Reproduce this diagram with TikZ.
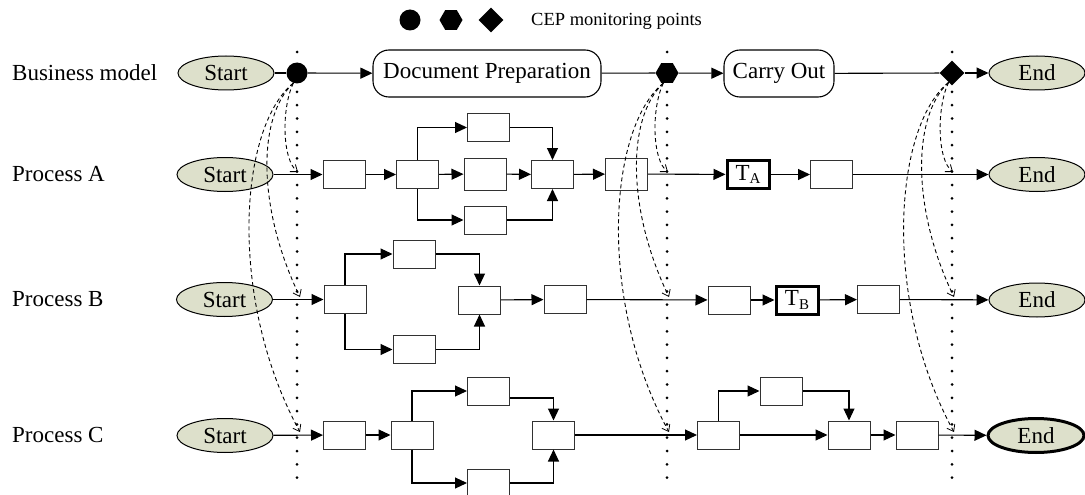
\documentclass[tikz,border=0pt]{standalone}
\usepackage{fontspec}
\setmainfont{Liberation Serif}
\usetikzlibrary{shapes.geometric,arrows.meta}
\definecolor{termfill}{RGB}{221,224,203}
\definecolor{boxline}{RGB}{50,50,50}
\begin{document}
\begin{tikzpicture}[x=1pt,y=-1pt,
  every node/.style={inner sep=0pt, font=\fontsize{23}{27}\selectfont},
  lab/.style={anchor=west},
  term/.style={ellipse, draw, line width=1pt, fill=termfill, minimum width=96pt, minimum height=34pt},
  task/.style={rectangle, draw=boxline, line width=1pt, fill=white, minimum width=42pt, minimum height=28pt},
  crit/.style={task, draw=black, line width=3pt},
  act/.style={rectangle, draw, line width=1.1pt, rounded corners=16pt, minimum height=47pt},
  mcirc/.style={circle, fill=black, minimum size=21pt},
  mhex/.style={regular polygon, regular polygon sides=6, fill=black, minimum size=23pt},
  mdia/.style={diamond, fill=black, minimum width=25pt, minimum height=25pt},
  flow/.style={line width=1.1pt, -{Triangle[length=12pt,width=11pt]}},
  plain/.style={line width=1.1pt},
  mon/.style={line width=0.9pt, dash pattern=on 4pt off 3pt, -{Straight Barb[length=6pt,width=9pt,line width=0.8pt]}},
  guide/.style={line width=3pt, line cap=round, dash pattern=on 0pt off 13.3pt},
]
\useasboundingbox (0,0) rectangle (1085,495);

% guide lines
\coordinate (g1t) at (297,52);  \coordinate (g1b) at (297,478);
\coordinate (g2t) at (667,52);  \coordinate (g2b) at (667,478);
\coordinate (g3t) at (952,52);  \coordinate (g3b) at (952,478);
\draw[guide] (g1t) -- (g1b);
\draw[guide] (g2t) -- (g2b);
\draw[guide] (g3t) -- (g3b);

% legend
\node[mcirc] (l1) at (410,20) {};
\node[mhex] (l2) at (451,20) {};
\node[mdia] (l3) at (491,20) {};
\node[anchor=west, font=\fontsize{18.5}{22}\selectfont] (lt) at (531,21) {CEP monitoring points};

% business model
\node[lab] (lbm) at (12,73) {Business model};
\node[term] (bS) at (226,73) {Start};
\node[mcirc] (m1) at (297,73) {};
\node[act, minimum width=228pt] (doc) at (487,73.5) {Document Preparation};
\node[mhex] (m2) at (667,73) {};
\node[act, minimum width=110pt] (carry) at (779,73.5) {Carry Out};
\node[mdia] (m3) at (952,73) {};
\node[term] (bE) at (1037,73) {End};

% process A
\node[lab] (lpa) at (12,174) {Process A};
\node[term] (SA) at (225,174.5) {Start};
\node[task] (A1) at (344,174.5) {};
\node[task] (A2) at (417.5,174.5) {};
\node[task] (Au) at (488.5,127.5) {};
\node[task, minimum height=32pt] (Am) at (485,174) {};
\node[task] (Ad) at (485,220) {};
\node[task] (A5) at (552.5,174.5) {};
\node[task, minimum height=32pt] (A6) at (626.5,174) {};
\node[crit] (TA) at (748,174.5) {T\raisebox{-0.3ex}{\fontsize{15}{15}\selectfont A}};
\node[task] (A7) at (831.5,174.5) {};
\node[term] (EA) at (1037,174.5) {End};

% process B
\node[lab] (lpb) at (12,299.5) {Process B};
\node[term] (SB) at (224.5,299.5) {Start};
\node[task] (B1) at (345,299.5) {};
\node[task] (Bu) at (414,254) {};
\node[task] (Bd) at (414,349.5) {};
\node[task] (B4) at (479.5,300) {};
\node[task] (B5) at (565,299.5) {};
\node[task] (B6) at (729,300) {};
\node[crit] (TB) at (797,300) {T\raisebox{-0.3ex}{\fontsize{15}{15}\selectfont B}};
\node[task] (B7) at (878.5,299.5) {};
\node[term] (EB) at (1037,300) {End};

% process C
\node[lab] (lpc) at (12,435) {Process C};
\node[term] (SC) at (225,435.5) {Start};
\node[task] (C1) at (344.5,435) {};
\node[task] (C2) at (412,435) {};
\node[task] (Cu) at (488.5,391) {};
\node[task] (Cd) at (488.5,483) {};
\node[task] (C5) at (553.5,435) {};
\node[task] (C6) at (718.5,435) {};
\node[task] (Cv) at (781,391) {};
\node[task] (C7) at (849,435) {};
\node[task] (C8) at (917,435) {};
\node[term, line width=3pt] (EC) at (1036,435.5) {End};

% business edges
\draw[plain] (bS) -- (m1);
\draw[flow] (m1) -- (doc);
\draw[plain] (doc) -- (m2);
\draw[flow] (m2) -- (carry);
\draw[plain] (carry) -- (m3);
\draw[flow] (m3) -- (bE);

% process A edges
\draw[flow] (SA) -- (A1);
\draw[flow] (A1) -- (A2);
\draw[flow] (A2.north) |- (Au.west);
\draw[flow] (A2) -- (Am);
\draw[flow] (A2.south) |- (Ad.west);
\draw[flow] (Au.east) -| (A5.north);
\draw[flow] (Am) -- (A5);
\draw[flow] (Ad.east) -| (A5.south);
\draw[flow] (A5) -- (A6);
\draw[flow] (A6) -- (TA);
\draw[flow] (TA) -- (A7);
\draw[flow] (A7) -- (EA);

% process B edges
\draw[flow] (SB) -- (B1);
\draw[flow] (B1.north) |- (Bu.west);
\draw[flow] (B1.south) |- (Bd.west);
\draw[flow] (Bu.east) -| (B4.north);
\draw[flow] (Bd.east) -| (B4.south);
\draw[flow] (B4) -- (B5);
\draw[flow] (B5) -- (B6);
\draw[flow] (B6) -- (TB);
\draw[flow] (TB) -- (B7);
\draw[flow] (B7) -- (EB);

% process C edges
\draw[flow] (SC) -- (C1);
\draw[flow] (C1) -- (C2);
\draw[flow] (C2.north) |- (Cu.west);
\draw[flow] (C2.south) |- (Cd.west);
\draw[flow] ([yshift=-7pt]Cu.east) -| (C5.north);
\draw[flow] (Cd.east) -| (C5.south);
\draw[flow] (C5) -- (C6);
\draw[flow] (C6.north) |- (Cv.west);
\draw[flow] (C6) -- (C7);
\draw[flow] (Cv.east) -| (C7.north);
\draw[flow] (C7) -- (C8);
\draw[flow] (C8) -- (EC);

% monitoring targets
\coordinate (pA1) at (298,172); \coordinate (pB1) at (300,297); \coordinate (pC1) at (300,432);
\coordinate (pA2) at (668,172); \coordinate (pB2) at (669,297); \coordinate (pC2) at (669,432);
\coordinate (pA3) at (953,172); \coordinate (pB3) at (954,297); \coordinate (pC3) at (954,432);

\foreach \m/\i in {m1/1,m2/2,m3/3}{
  \draw[mon] (\m.250) .. controls +(-12,25) and +(-16,-12) .. (pA\i);
  \draw[mon] (\m.250) .. controls +(-37,35) and +(-42,-87) .. (pB\i);
  \draw[mon] (\m.250) .. controls +(-55,45) and +(-72,-132) .. (pC\i);
}
\end{tikzpicture}
\end{document}
